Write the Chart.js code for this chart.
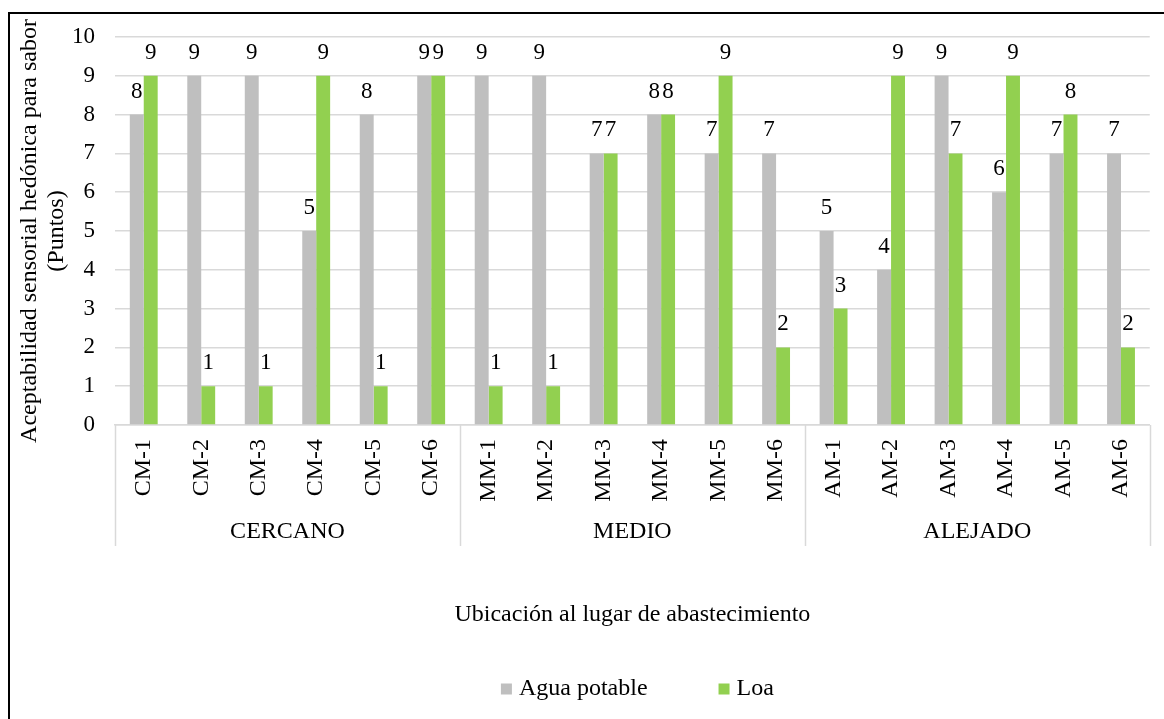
<!DOCTYPE html>
<html>
<head>
<meta charset="utf-8">
<script src="https://cdn.jsdelivr.net/npm/chart.js@4"></script>
<style>
  html, body { margin: 0; padding: 0; background: #fff; overflow: hidden; font-family: 'Liberation Serif', serif; }
  #wrap { position: relative; width: 1164px; height: 719px; }
  #frame { position: absolute; left: 8px; top: 12px; width: 1200px; height: 760px; border: 2px solid #000; box-sizing: border-box; pointer-events: none; }
  canvas { position: absolute; left: 0; top: 0; }
</style>
</head>
<body>
<div id="wrap">
  <canvas id="barChart" width="1164" height="719"></canvas>
  <div id="frame"></div>
</div>
<script>
const ctx = document.getElementById('barChart').getContext('2d');

const categories = ['CM-1', 'CM-2', 'CM-3', 'CM-4', 'CM-5', 'CM-6',
                    'MM-1', 'MM-2', 'MM-3', 'MM-4', 'MM-5', 'MM-6',
                    'AM-1', 'AM-2', 'AM-3', 'AM-4', 'AM-5', 'AM-6'];
const groups = ['CERCANO', 'MEDIO', 'ALEJADO'];
const groupSizes = [6, 6, 6];
const seriesNames = ['Agua potable', 'Loa'];
const aguaPotable = [8, 9, 9, 5, 8, 9, 9, 9, 7, 8, 7, 7, 5, 4, 9, 6, 7, 7];
const loa = [9, 1, 1, 9, 1, 9, 1, 1, 7, 8, 9, 2, 3, 9, 7, 9, 8, 2];
const yTicks = [0, 1, 2, 3, 4, 5, 6, 7, 8, 9, 10];
const yTitle = ['Aceptabilidad sensorial hedónica para sabor', '(Puntos)'];
const xTitle = 'Ubicación al lugar de abastecimiento';

const colors = ['#BFBFBF', '#92D050'];
const FONT = "'Liberation Serif', serif";

Chart.defaults.font.family = FONT;
Chart.defaults.color = '#000';

// etiquetas de valor encima de cada barra
const valueLabels = {
    id: 'valueLabels',
    afterDatasetsDraw(chart) {
        const c = chart.ctx;
        c.save();
        c.font = "23px 'Liberation Serif', serif";
        c.fillStyle = '#000';
        c.textAlign = 'center';
        c.textBaseline = 'alphabetic';
        chart.data.datasets.forEach((ds, i) => {
            chart.getDatasetMeta(i).data.forEach((bar, j) => {
                c.fillText(String(ds.data[j]), bar.x, bar.y - 17);
            });
        });
        c.restore();
    }
};

// grupos del eje x (CERCANO / MEDIO / ALEJADO) y leyenda
const groupAxis = {
    id: 'groupAxis',
    afterDraw(chart) {
        const c = chart.ctx;
        const x = chart.scales.x;
        const area = chart.chartArea;
        const yTop = area.bottom;
        const yBot = 546;
        c.save();
        c.strokeStyle = '#D9D9D9';
        c.lineWidth = 1.5;
        c.font = "24px 'Liberation Serif', serif";
        c.fillStyle = '#000';
        c.textAlign = 'center';
        c.textBaseline = 'middle';

        let start = 0;
        const edge = (i) => {
            if (i <= 0) return area.left;
            if (i >= categories.length) return area.right;
            return (x.getPixelForValue(i - 1) + x.getPixelForValue(i)) / 2;
        };
        const bounds = [edge(0)];
        groupSizes.forEach((n, g) => {
            const l = edge(start);
            const r = edge(start + n);
            bounds.push(r);
            c.fillText(groups[g], (l + r) / 2, 532);
            start += n;
        });
        bounds.forEach(bx => {
            const px = Math.round(bx) + 0.5;
            c.beginPath();
            c.moveTo(px, yTop);
            c.lineTo(px, yBot);
            c.stroke();
        });

        // leyenda
        const box = 11;
        const gap = 7;
        const spacing = 71;
        c.textAlign = 'left';
        c.font = "24px 'Liberation Serif', serif";
        const widths = seriesNames.map(s => c.measureText(s).width);
        const total = widths.reduce((a, w) => a + box + gap + w, 0) + spacing * (seriesNames.length - 1);
        let lx = (area.left + area.right) / 2 + 5 - total / 2;
        const ly = 689;
        seriesNames.forEach((s, i) => {
            c.fillStyle = colors[i];
            c.fillRect(lx, ly - box / 2, box, box);
            c.fillStyle = '#000';
            c.fillText(s, lx + box + gap, ly);
            lx += box + gap + widths[i] + spacing;
        });
        c.restore();
    }
};

const chart = new Chart(ctx, {
    type: 'bar',
    data: {
        labels: categories,
        datasets: [{
            label: seriesNames[0],
            data: aguaPotable,
            backgroundColor: colors[0],
            borderWidth: 0,
            categoryPercentage: 0.485,
            barPercentage: 1
        }, {
            label: seriesNames[1],
            data: loa,
            backgroundColor: colors[1],
            borderWidth: 0,
            categoryPercentage: 0.485,
            barPercentage: 1
        }]
    },
    options: {
        responsive: false,
        animation: false,
        devicePixelRatio: 1,
        layout: {
            padding: { left: 10, top: 37, right: 7, bottom: 90 }
        },
        plugins: {
            legend: { display: false },
            tooltip: { enabled: false }
        },
        scales: {
            x: {
                grid: { display: false, drawTicks: false },
                border: { display: true, color: '#D9D9D9', width: 1.5 },
                ticks: {
                    color: '#000',
                    font: { family: FONT, size: 24 },
                    minRotation: 90,
                    maxRotation: 90,
                    padding: 14,
                    autoSkip: false
                },
                title: {
                    display: true,
                    text: xTitle,
                    color: '#000',
                    font: { family: FONT, size: 24 },
                    padding: { top: 0, bottom: 0 }
                },
                afterFit(scale) { scale.height = 204; }
            },
            y: {
                min: 0,
                max: 10,
                grid: { color: '#D9D9D9', lineWidth: 1.5, drawTicks: false },
                border: { display: false },
                afterBuildTicks(scale) { scale.ticks = yTicks.map(v => ({ value: v })); },
                ticks: {
                    color: '#000',
                    font: { family: FONT, size: 23 },
                    padding: 20
                },
                title: {
                    display: true,
                    text: yTitle,
                    color: '#000',
                    font: { family: FONT, size: 24, lineHeight: 1.1 },
                    padding: { top: 7, bottom: 0 }
                },
                afterFit(scale) { scale.width = 105; }
            }
        }
    },
    plugins: [valueLabels, groupAxis]
});
</script>
</body>
</html>
